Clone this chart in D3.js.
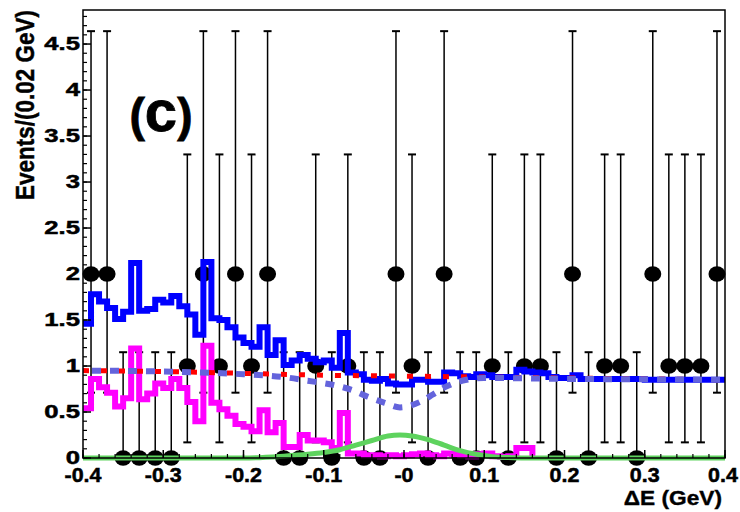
<!DOCTYPE html>
<html>
<head>
<meta charset="utf-8">
<script src="https://cdn.jsdelivr.net/npm/d3@7/dist/d3.min.js"></script>
<style>
  html, body { margin: 0; padding: 0; background: #fff; }
  svg { display: block; }
  text { font-family: "Liberation Sans", Arial, Helvetica, sans-serif; font-weight: bold; }
</style>
</head>
<body>
<svg id="chart" width="740" height="512"></svg>
<script>
// ---------- data ----------
// data points: bin centres (GeV) and counts
const binCenters = [-0.39,-0.37,-0.35,-0.33,-0.31,-0.29,-0.27,-0.25,-0.23,-0.21,
                    -0.19,-0.17,-0.15,-0.13,-0.11,-0.09,-0.07,-0.05,-0.03,-0.01,
                     0.01, 0.03, 0.05, 0.07, 0.09, 0.11, 0.13, 0.15, 0.17, 0.19,
                     0.21, 0.23, 0.25, 0.27, 0.29, 0.31, 0.33, 0.35, 0.37, 0.39];
const counts = [2,2,0,0,0,0,1,2,1,2,
                1,2,0,0,1,0,1,0,0,2,
                1,0,2,0,0,1,0,1,1,0,
                2,0,1,1,0,2,1,1,1,2];
// asymmetric error bars per count: [lower, upper]
const errorTable = { 0: [0, 1.15], 1: [0.83, 2.30], 2: [1.29, 2.64] };

// fine histograms, 0.01 GeV bins starting at -0.40
const histStart = -0.40, histWidth = 0.01;
const blueHist = [1.46,1.78,1.70,1.63,1.51,1.59,2.12,1.60,1.62,1.72,
                  1.69,1.76,1.65,1.56,1.34,2.13,1.52,1.50,1.42,1.31,
                  1.25,1.21,1.42,1.12,1.28,1.01,1.06,1.12,1.08,1.04,
                  1.06,0.98,1.36,0.93,0.91,0.85,0.84,0.86,0.81,0.80,
                  0.80,0.85,0.85,0.83,0.83,0.93,0.92,0.89,0.88,0.91,
                  0.90,0.88,0.88,0.88,0.96,0.94,0.93,0.92,0.88,0.87,
                  0.87,0.90,0.86,0.86,0.86,0.86,0.86,0.86,0.86,0.86,
                  0.85,0.85,0.85,0.85,0.85,0.85,0.85,0.85,0.85,0.85];
const magentaHist = [0.54,0.86,0.77,0.71,0.56,0.65,1.19,0.64,0.70,0.81,
                     0.76,0.86,0.76,0.61,0.40,1.22,0.60,0.53,0.46,0.37,
                     0.34,0.29,0.52,0.28,0.38,0.12,0.12,0.25,0.19,0.19,
                     0.17,0.11,0.49,0.05,0.05,0.03,0.03,0.02,0.03,0.02,
                     0.03,0.04,0.05,0.03,0.02,0.05,0.04,0.03,0.02,0.04,
                     0.05,0.02,0.01,0.02,0.11,0.11];

// smooth curves
const redX   = [-0.40,-0.30,-0.20,-0.10,0.00,0.10,0.20,0.30,0.40];
const redY   = [ 0.95, 0.94, 0.92, 0.90,0.89,0.88,0.87,0.86,0.85];
const lavX   = [-0.40,-0.30,-0.20,-0.15,-0.12,-0.086,-0.065,-0.045,-0.024,-0.005,0.02,0.036,0.051,0.078,0.10,0.20,0.30,0.40];
const lavY   = [ 0.95, 0.94, 0.91, 0.88, 0.84, 0.79, 0.74, 0.665, 0.60, 0.55, 0.61,0.69,0.77,0.85,0.87,0.86,0.855,0.85];
const greenX = [-0.40,-0.20,-0.15,-0.12,-0.10,-0.08,-0.06,-0.04,-0.02,-0.005,0.01,0.03,0.05,0.07,0.09,0.11,0.13,0.15,0.20,0.40];
const greenY = [ 0.00, 0.00, 0.02, 0.04, 0.06, 0.09, 0.14, 0.19, 0.24, 0.25, 0.24,0.20,0.14,0.08,0.04,0.015,0.005,0.00,0.00,0.00];

const xTickValues = [-0.4,-0.3,-0.2,-0.1,0,0.1,0.2,0.3,0.4];
const xTickLabels = ["-0.4","-0.3","-0.2","-0.1","-0","0.1","0.2","0.3","0.4"];
const yTickValues = [0,0.5,1,1.5,2,2.5,3,3.5,4,4.5];
const yTickLabels = ["0","0.5","1","1.5","2","2.5","3","3.5","4","4.5"];
const xTitle = "\u0394E (GeV)";
const yTitle = "Events/(0.02 GeV)";
const panelParenL = "(", panelLetter = "c", panelParenR = ")";

// ---------- drawing ----------
const svg = d3.select("#chart");
const L = 83, R = 725, T = 10, B = 458;
const x = d3.scaleLinear().domain([-0.4, 0.4]).range([L, R]);
const y = d3.scaleLinear().domain([0, 4.87]).range([B, T]);

svg.append("rect").attr("width", 740).attr("height", 512).attr("fill", "#fff");

// data points + error bars
const pts = binCenters.map((c, i) => ({ c, n: counts[i], lo: errorTable[counts[i]][0], hi: errorTable[counts[i]][1] }));
const gData = svg.append("g");
gData.selectAll("line.eb").data(pts).join("line")
  .attr("x1", d => x(d.c)).attr("x2", d => x(d.c))
  .attr("y1", d => y(d.n - d.lo)).attr("y2", d => y(d.n + d.hi))
  .attr("stroke", "#000").attr("stroke-width", 1.5);
gData.selectAll("line.capT").data(pts).join("line")
  .attr("x1", d => x(d.c) - 4).attr("x2", d => x(d.c) + 4)
  .attr("y1", d => y(d.n + d.hi)).attr("y2", d => y(d.n + d.hi))
  .attr("stroke", "#000").attr("stroke-width", 2);
gData.selectAll("line.capB").data(pts.filter(d => d.lo > 0)).join("line")
  .attr("x1", d => x(d.c) - 4).attr("x2", d => x(d.c) + 4)
  .attr("y1", d => y(d.n - d.lo)).attr("y2", d => y(d.n - d.lo))
  .attr("stroke", "#000").attr("stroke-width", 2);
gData.selectAll("ellipse").data(pts).join("ellipse")
  .attr("cx", d => x(d.c)).attr("cy", d => y(d.n)).attr("rx", 8.5).attr("ry", 7.8).attr("fill", "#000");

// histograms
const stepLine = d3.line().x(d => x(d[0])).y(d => y(d[1])).curve(d3.curveStepAfter);
const magPts = magentaHist.map((v, i) => [histStart + i * histWidth, v]);
magPts.push([histStart + magentaHist.length * histWidth, 0]);
svg.append("path").attr("d", stepLine(magPts)).attr("fill", "none")
  .attr("stroke", "#ff00ff").attr("stroke-width", 6);

const bluePts = blueHist.map((v, i) => [histStart + i * histWidth, v]);
bluePts.push([0.4, blueHist[blueHist.length - 1]]);
svg.append("path").attr("d", stepLine(bluePts)).attr("fill", "none")
  .attr("stroke", "#0000ff").attr("stroke-width", 6);

// smooth curves
const smooth = d3.line().x(d => x(d[0])).y(d => y(d[1])).curve(d3.curveMonotoneX);
svg.append("path").attr("d", smooth(redX.map((v, i) => [v, redY[i]]))).attr("fill", "none")
  .attr("stroke", "#ff0000").attr("stroke-width", 5).attr("stroke-dasharray", "6,12");
svg.append("path").attr("d", smooth(lavX.map((v, i) => [v, lavY[i]]))).attr("fill", "none")
  .attr("stroke", "#6464dc").attr("stroke-width", 6).attr("stroke-dasharray", "9,9")
  .attr("stroke-dashoffset", -9);
svg.append("path").attr("d", smooth(greenX.map((v, i) => [v, greenY[i]]))).attr("fill", "none")
  .attr("stroke", "#5ed35e").attr("stroke-width", 5);

// frame
svg.append("rect").attr("x", L).attr("y", T).attr("width", R - L).attr("height", B - T)
  .attr("fill", "none").attr("stroke", "#000").attr("stroke-width", 1.5);

// ticks
const xMinor = d3.range(-0.4, 0.4001, 0.02);
svg.append("g").selectAll("line").data(xMinor).join("line")
  .attr("x1", d => x(d)).attr("x2", d => x(d)).attr("y1", B).attr("y2", B - 4)
  .attr("stroke", "#000").attr("stroke-width", 1.2);
svg.append("g").selectAll("line").data(xTickValues).join("line")
  .attr("x1", d => x(d)).attr("x2", d => x(d)).attr("y1", B).attr("y2", B - 8)
  .attr("stroke", "#000").attr("stroke-width", 1.5);
const yMinor = d3.range(0, 4.8001, 0.1);
svg.append("g").selectAll("line").data(yMinor).join("line")
  .attr("x1", L).attr("x2", L + 4).attr("y1", d => y(d)).attr("y2", d => y(d))
  .attr("stroke", "#000").attr("stroke-width", 1.2);
svg.append("g").selectAll("line").data(yTickValues).join("line")
  .attr("x1", L).attr("x2", L + 8).attr("y1", d => y(d)).attr("y2", d => y(d))
  .attr("stroke", "#000").attr("stroke-width", 1.5);

// tick labels (slightly wide, heavy type as in the reference)
svg.append("g").selectAll("text").data(xTickValues).join("text")
  .attr("transform", d => `translate(${Math.min(x(d), 723)},482) scale(1.1,1)`).attr("text-anchor", "middle")
  .attr("font-size", 19.5).attr("stroke", "#000").attr("stroke-width", 0.5)
  .text((d, i) => xTickLabels[i]);
svg.append("g").selectAll("text").data(yTickValues).join("text")
  .attr("transform", d => `translate(80,${y(d) + 6}) scale(1.35,1)`).attr("text-anchor", "end")
  .attr("font-size", 19).attr("stroke", "#000").attr("stroke-width", 0.5)
  .text((d, i) => yTickLabels[i]);

// titles
svg.append("text").attr("transform", "translate(722,505) scale(1.08,1)").attr("text-anchor", "end")
  .attr("font-size", 21).attr("stroke", "#000").attr("stroke-width", 0.4).text(xTitle);
svg.append("text").attr("transform", "translate(34,10) scale(1.15,1) rotate(-90)").attr("text-anchor", "end")
  .attr("font-size", 22.5).attr("stroke", "#000").attr("stroke-width", 0.4).text(yTitle);
const lab = svg.append("text").attr("x", 161).attr("y", 131).attr("text-anchor", "middle")
  .attr("font-size", 46).attr("stroke", "#000").attr("stroke-width", 0.8);
lab.append("tspan").text(panelParenL);
lab.append("tspan").attr("font-size", 58).text(panelLetter);
lab.append("tspan").text(panelParenR);
</script>
</body>
</html>
